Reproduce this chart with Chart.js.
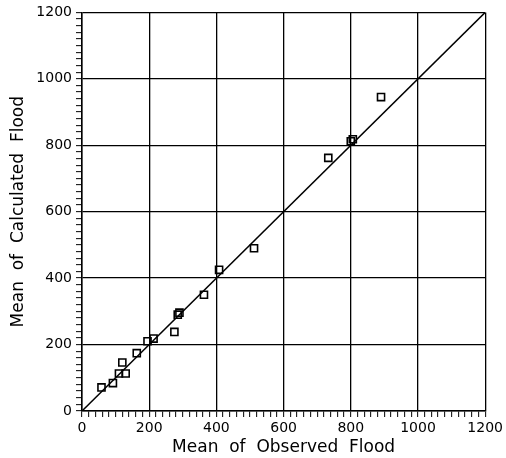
<!DOCTYPE html>
<html>
<head>
<meta charset="utf-8">
<script src="https://cdn.jsdelivr.net/npm/chart.js@4/dist/chart.umd.min.js"></script>
<style>
  html, body { margin: 0; padding: 0; background: #fff; }
  #wrap { width: 506px; height: 458px; }
</style>
</head>
<body>
<div id="wrap"><canvas id="floodChart"></canvas></div>
<script>
// observed vs calculated mean flood
const observed   = [58, 92, 110, 130, 120, 163, 195, 213, 275, 285, 290, 363, 408, 512, 733, 800, 806, 890];
const calculated = [71, 84, 113, 113, 146, 174, 210, 218, 238, 290, 296, 350, 425, 490, 762, 812, 818, 945];
// 1:1 line
const lineX = [0, 1200];
const lineY = [0, 1200];
const tickValues = [0, 200, 400, 600, 800, 1000, 1200];

const pointData = observed.map((v, i) => ({ x: v, y: calculated[i] }));
const lineData = lineX.map((v, i) => ({ x: v, y: lineY[i] }));

const fontFamily = '"DejaVu Sans", sans-serif';

// grid only on the major (labelled) values, minor ticks every 20
function gridColor(ctx) {
    return tickValues.includes(ctx.tick.value) ? '#000' : 'rgba(0,0,0,0)';
}
function tickLabel(value) {
    return tickValues.includes(value) ? String(value) : '';
}

const ctx = document.getElementById('floodChart').getContext('2d');

const floodChart = new Chart(ctx, {
    type: 'scatter',
    data: {
        datasets: [
            {
                label: 'Points',
                data: pointData,
                pointStyle: 'rect',
                pointRadius: 5,
                pointBorderWidth: 1.6,
                pointBorderColor: '#000',
                pointBackgroundColor: 'rgba(0,0,0,0)',
                showLine: false,
            },
            {
                label: '1:1',
                data: lineData,
                showLine: true,
                borderColor: '#000',
                borderWidth: 1.5,
                pointRadius: 0,
            }
        ]
    },
    options: {
        responsive: true,
        maintainAspectRatio: false,
        animation: false,
        layout: { padding: { top: 11, right: 20, left: 8, bottom: 0 } },
        plugins: {
            legend: { display: false },
            tooltip: { enabled: false },
        },
        scales: {
            x: {
                type: 'linear',
                min: 0,
                max: 1200,
                afterFit: (scale) => { scale.height = 47; },
                ticks: {
                    stepSize: 20,
                    autoSkip: false,
                    maxRotation: 0,
                    padding: 3,
                    color: '#000',
                    font: { family: fontFamily, size: 14 },
                    callback: tickLabel,
                },
                grid: {
                    color: gridColor,
                    tickColor: '#000',
                    tickLength: 6,
                    lineWidth: 1.3,
                    tickWidth: 1,
                },
                border: { color: '#000', width: 1.5 },
                title: {
                    display: true,
                    text: 'Mean  of  Observed  Flood',
                    color: '#000',
                    font: { family: fontFamily, size: 17 },
                    padding: { top: 0, bottom: 0 },
                },
            },
            y: {
                type: 'linear',
                min: 0,
                max: 1200,
                afterFit: (scale) => { scale.width = 74; },
                ticks: {
                    stepSize: 20,
                    autoSkip: false,
                    padding: 4,
                    color: '#000',
                    font: { family: fontFamily, size: 14 },
                    callback: tickLabel,
                },
                grid: {
                    color: gridColor,
                    tickColor: '#000',
                    tickLength: 6,
                    lineWidth: 1.3,
                    tickWidth: 1,
                },
                border: { color: '#000', width: 1.5 },
                title: {
                    display: true,
                    text: 'Mean  of  Calculated  Flood',
                    color: '#000',
                    font: { family: fontFamily, size: 17 },
                    padding: { top: 0, bottom: 0 },
                },
            }
        }
    }
});
</script>
</body>
</html>
